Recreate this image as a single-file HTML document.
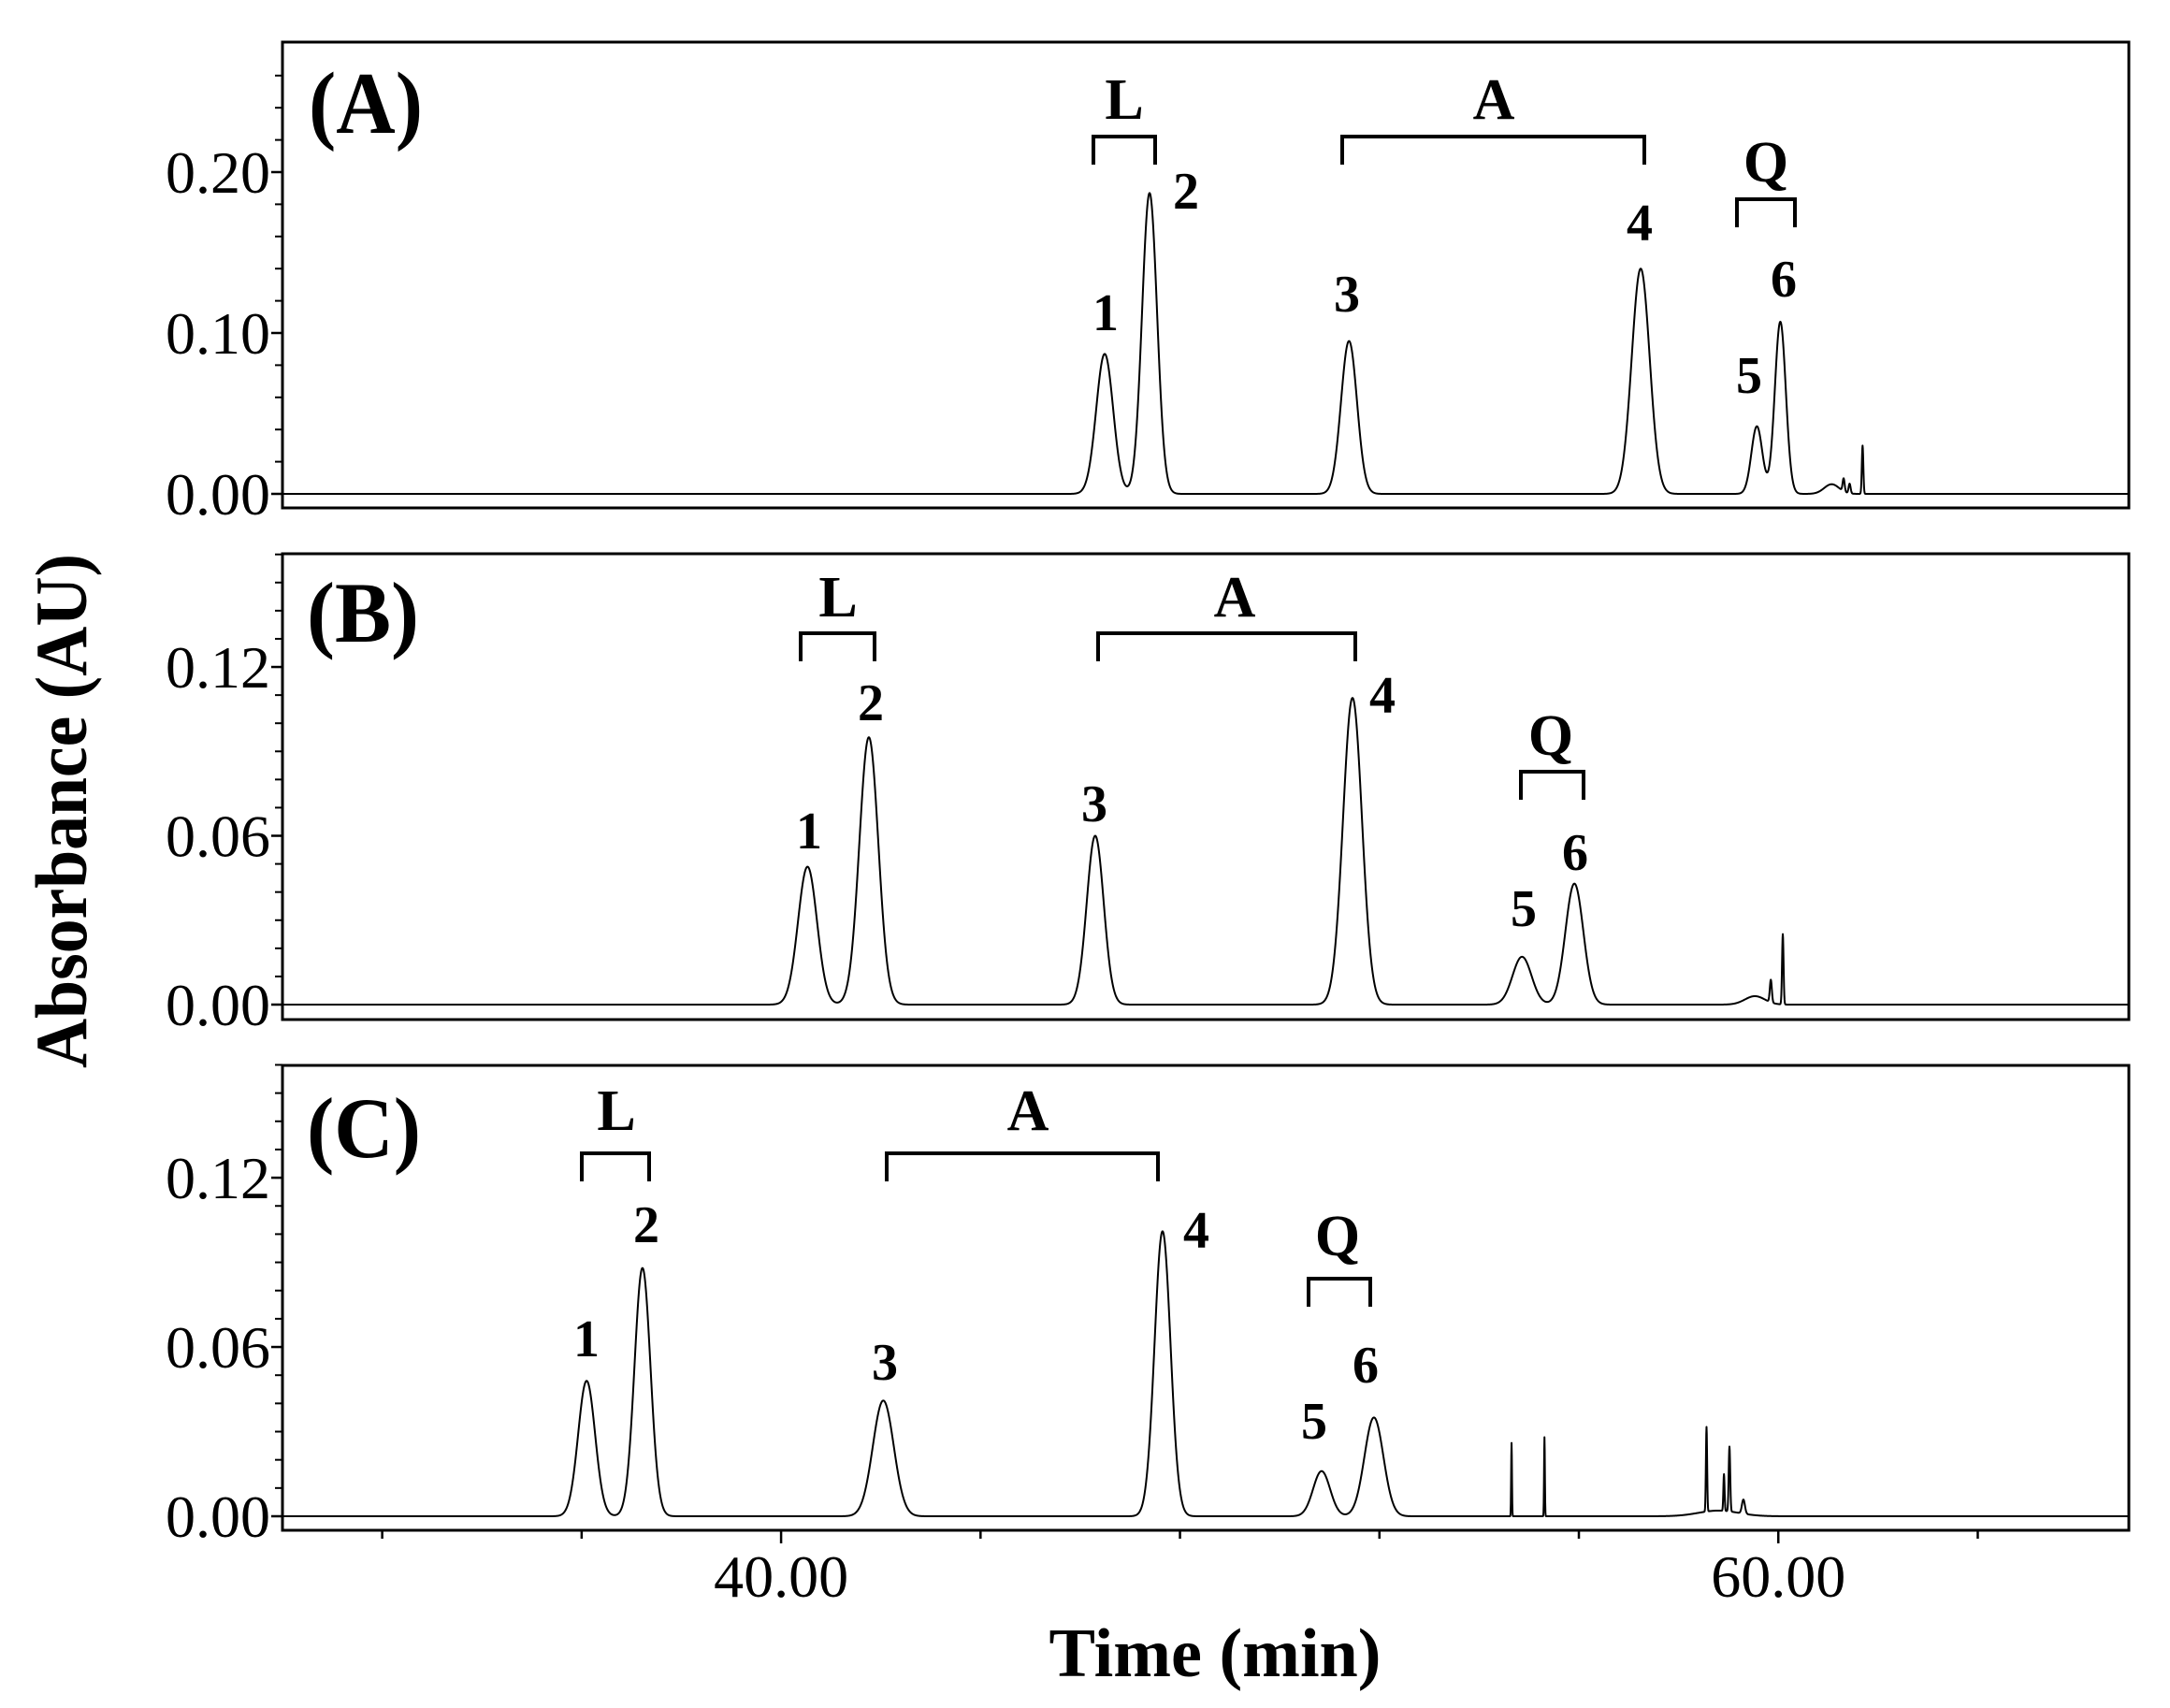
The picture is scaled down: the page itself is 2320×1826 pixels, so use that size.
<!DOCTYPE html>
<html>
<head>
<meta charset="utf-8">
<style>
html,body{margin:0;padding:0;background:#fff;}
svg{display:block;}
text{font-family:"Liberation Serif","Times New Roman",serif;fill:#000;}
.b{font-weight:bold;}
</style>
</head>
<body>
<svg id="chart" width="2320" height="1826" viewBox="0 0 2320 1826" xmlns="http://www.w3.org/2000/svg">
<rect x="0" y="0" width="2320" height="1826" fill="#fff"/>
<g id="frames"></g>
<g id="traces"></g>
<g id="annot">
  <!-- Panel A -->
  <text class="b" x="330" y="142" font-size="94" textLength="122" lengthAdjust="spacingAndGlyphs">(A)</text>
  <text class="b" x="1202" y="127" font-size="62" text-anchor="middle">L</text>
  <path d="M1169,176 V146 H1235 V176" fill="none" stroke="#000" stroke-width="4"/>
  <text class="b" x="1597" y="127" font-size="62" text-anchor="middle">A</text>
  <path d="M1435,176 V146 H1758 V176" fill="none" stroke="#000" stroke-width="4"/>
  <text class="b" x="1888" y="194" font-size="62" text-anchor="middle">Q</text>
  <path d="M1857,243 V213 H1919 V243" fill="none" stroke="#000" stroke-width="4"/>
  <text class="b" x="1182" y="353" font-size="56" text-anchor="middle">1</text>
  <text class="b" x="1268" y="223" font-size="56" text-anchor="middle">2</text>
  <text class="b" x="1440" y="333" font-size="56" text-anchor="middle">3</text>
  <text class="b" x="1753" y="257" font-size="56" text-anchor="middle">4</text>
  <text class="b" x="1870" y="420" font-size="56" text-anchor="middle">5</text>
  <text class="b" x="1907" y="317" font-size="56" text-anchor="middle">6</text>
  <!-- Panel B -->
  <text class="b" x="328" y="686" font-size="92" textLength="120" lengthAdjust="spacingAndGlyphs">(B)</text>
  <text class="b" x="896" y="659" font-size="62" text-anchor="middle">L</text>
  <path d="M856,707 V677 H935 V707" fill="none" stroke="#000" stroke-width="4"/>
  <text class="b" x="1320" y="659" font-size="62" text-anchor="middle">A</text>
  <path d="M1174,707 V677 H1449 V707" fill="none" stroke="#000" stroke-width="4"/>
  <text class="b" x="1658" y="807" font-size="62" text-anchor="middle">Q</text>
  <path d="M1626,855 V825 H1693 V855" fill="none" stroke="#000" stroke-width="4"/>
  <text class="b" x="865" y="907" font-size="56" text-anchor="middle">1</text>
  <text class="b" x="931" y="770" font-size="56" text-anchor="middle">2</text>
  <text class="b" x="1170" y="878" font-size="56" text-anchor="middle">3</text>
  <text class="b" x="1478" y="762" font-size="56" text-anchor="middle">4</text>
  <text class="b" x="1629" y="990" font-size="56" text-anchor="middle">5</text>
  <text class="b" x="1684" y="930" font-size="56" text-anchor="middle">6</text>
  <!-- Panel C -->
  <text class="b" x="328" y="1237" font-size="92" textLength="122" lengthAdjust="spacingAndGlyphs">(C)</text>
  <text class="b" x="659" y="1208" font-size="62" text-anchor="middle">L</text>
  <path d="M622,1263 V1233 H694 V1263" fill="none" stroke="#000" stroke-width="4"/>
  <text class="b" x="1099" y="1208" font-size="62" text-anchor="middle">A</text>
  <path d="M948,1263 V1233 H1238 V1263" fill="none" stroke="#000" stroke-width="4"/>
  <text class="b" x="1430" y="1342" font-size="62" text-anchor="middle">Q</text>
  <path d="M1399,1397 V1367 H1465 V1397" fill="none" stroke="#000" stroke-width="4"/>
  <text class="b" x="627" y="1450" font-size="56" text-anchor="middle">1</text>
  <text class="b" x="691" y="1328" font-size="56" text-anchor="middle">2</text>
  <text class="b" x="946" y="1475" font-size="56" text-anchor="middle">3</text>
  <text class="b" x="1279" y="1334" font-size="56" text-anchor="middle">4</text>
  <text class="b" x="1405" y="1538" font-size="56" text-anchor="middle">5</text>
  <text class="b" x="1460" y="1478" font-size="56" text-anchor="middle">6</text>
</g>
<text class="b" transform="translate(92,867) rotate(-90)" font-size="78" text-anchor="middle" textLength="550" lengthAdjust="spacingAndGlyphs">Absorbance (AU)</text>
<text class="b" x="1299" y="1792" font-size="74" text-anchor="middle" textLength="355" lengthAdjust="spacingAndGlyphs">Time (min)</text>
</svg>
<script>
// ---- data ----
const timesA = [46.49, 47.39, 51.39, 57.24, 59.57, 60.04, 61.07, 61.31, 61.43, 61.69];
const heightsA = [0.087, 0.187, 0.095, 0.140, 0.042, 0.107, 0.006, 0.008, 0.006, 0.030];
const widthsA = [0.17, 0.15, 0.16, 0.18, 0.11, 0.11, 0.15, 0.02, 0.02, 0.015];

const timesB = [40.53, 41.76, 46.30, 51.46, 54.86, 55.91, 59.53, 59.85, 60.09];
const heightsB = [0.049, 0.095, 0.060, 0.109, 0.017, 0.043, 0.003, 0.008, 0.025];
const widthsB = [0.19, 0.19, 0.17, 0.19, 0.19, 0.18, 0.20, 0.02, 0.015];

const timesC = [36.10, 37.22, 42.05, 47.65, 50.84, 51.89, 54.65, 55.31, 58.56, 58.91, 59.02, 59.30, 58.80];
const heightsC = [0.048, 0.088, 0.041, 0.101, 0.016, 0.035, 0.026, 0.028, 0.030, 0.013, 0.023, 0.005, 0.002];
const widthsC = [0.17, 0.16, 0.21, 0.16, 0.17, 0.19, 0.008, 0.008, 0.012, 0.012, 0.015, 0.03, 0.40];

const xTickValues = [32, 36, 40, 44, 48, 52, 56, 60, 64];
const xTickLabels = {40: "40.00", 60: "60.00"};
const yTicksA = [0.00, 0.10, 0.20];
const yTicksB = [0.00, 0.06, 0.12];
const yTicksC = [0.00, 0.06, 0.12];

// ---- layout ----
const X0 = 302, X1 = 2276, T0 = 30, T1 = 67.03;
function xScale(t){ return X0 + (t - T0) * (X1 - X0) / (T1 - T0); }
const NS = "http://www.w3.org/2000/svg";
const panels = [
  {id:"a", top:45, bottom:543, zero:528, pxPerAU:1720, minor:0.02, minorMax:0.27, ticks:yTicksA, times:timesA, heights:heightsA, widths:widthsA},
  {id:"b", top:592, bottom:1090, zero:1074, pxPerAU:3008, minor:0.01, minorMax:0.161, ticks:yTicksB, times:timesB, heights:heightsB, widths:widthsB},
  {id:"c", top:1139, bottom:1636, zero:1621, pxPerAU:3016, minor:0.01, minorMax:0.161, ticks:yTicksC, times:timesC, heights:heightsC, widths:widthsC}
];
const frames = document.getElementById('frames');
const traces = document.getElementById('traces');

function mk(tag, attrs, parent){
  const el = document.createElementNS(NS, tag);
  for (const k in attrs) el.setAttribute(k, attrs[k]);
  parent.appendChild(el);
  return el;
}

panels.forEach(function(p, pi){
  const yScale = function(v){ return p.zero - v * p.pxPerAU; };
  const g = mk('g', {}, frames);
  
  
  const fr = mk('rect', {x:X0, y:p.top, width:X1-X0, height:p.bottom-p.top, fill:'none', stroke:'#000', 'stroke-width':3}, g);
  
  
  for (let v = 0; v <= p.minorMax + 1e-9; v += p.minor) {
    const y = yScale(v);
    const mt = mk('line', {x1:X0-8, x2:X0, y1:y, y2:y, stroke:'#000', 'stroke-width':2}, g);
    
    
  }
  p.ticks.forEach(function(v){
    const y = yScale(v);
    const t = mk('line', {x1:X0-12, x2:X0, y1:y, y2:y, stroke:'#000', 'stroke-width':2.5}, g);
    
    
    const lb = mk('text', {x:289, y:y+22, 'font-size':64, 'text-anchor':'end'}, g);
    lb.textContent = v.toFixed(2);
    
    
  });
  let samples = [];
  for (let t = T0; t <= T1; t += 0.005) samples.push(t);
  p.times.forEach(function(c){ samples.push(c); });
  samples.sort(function(a,b){return a-b;});
  let d = '';
  samples.forEach(function(t, i){
    let v = 0;
    for (let k = 0; k < p.times.length; k++) {
      const z = (t - p.times[k]) / p.widths[k];
      if (Math.abs(z) < 8) v += p.heights[k] * Math.exp(-0.5 * z * z);
    }
    d += (i ? 'L' : 'M') + xScale(t).toFixed(2) + ',' + yScale(v).toFixed(2);
  });
  const path = mk('path', {d:d, fill:'none', stroke:'#000', 'stroke-width':2, 'stroke-linejoin':'round'}, traces);
  
  
  if (pi === 2) {
    xTickValues.forEach(function(tv){
      const x = xScale(tv);
      const major = xTickLabels[tv] !== undefined;
      const tk = mk('line', {x1:x, x2:x, y1:p.bottom, y2:p.bottom + (major ? 14 : 9), stroke:'#000', 'stroke-width':2.5}, g);
      
      
      if (major) {
        const lb = mk('text', {x:x, y:1707, 'font-size':64, 'text-anchor':'middle'}, g);
        lb.textContent = xTickLabels[tv];
        
        
      }
    });
  }
});
</script>
</body>
</html>
